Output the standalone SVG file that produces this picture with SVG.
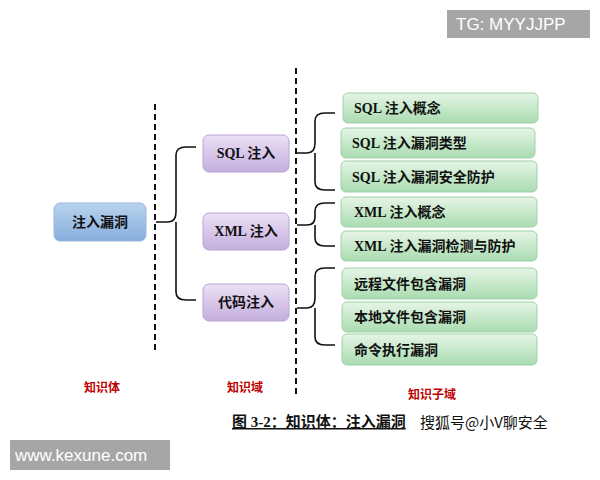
<svg xmlns="http://www.w3.org/2000/svg" width="600" height="480" viewBox="0 0 600 480">
<defs>
<linearGradient id="gb" x1="0" y1="0" x2="0" y2="1"><stop offset="0" stop-color="#b9d3ee"/><stop offset="1" stop-color="#86aedc"/></linearGradient>
<linearGradient id="gp" x1="0" y1="0" x2="0" y2="1"><stop offset="0" stop-color="#ece0f5"/><stop offset="1" stop-color="#c4aede"/></linearGradient>
<linearGradient id="gg" x1="0" y1="0" x2="0" y2="1"><stop offset="0" stop-color="#e6f5e6"/><stop offset="1" stop-color="#a9dcb0"/></linearGradient>
</defs>
<style>
text{font-family:"Liberation Serif","Noto Sans CJK SC",serif;font-weight:bold;font-size:14px;fill:#111}
.b{fill:url(#gb);stroke:#9bb8dc;stroke-width:1}
.p{fill:url(#gp);stroke:#b8a6d6;stroke-width:1}
.g{fill:url(#gg);stroke:#9fd0a8;stroke-width:1}
.c{fill:none;stroke:#111;stroke-width:1.6}
.d{stroke:#111;stroke-width:2;stroke-dasharray:6,4}
.r{fill:#c00000;font-family:"Noto Sans CJK SC",sans-serif;font-size:12px}
.w{font-family:"Liberation Sans",sans-serif;font-weight:normal;font-size:17px;fill:#fff}
</style>
<rect width="600" height="480" fill="#fff"/>
<g id="guides"><line class="d" x1="155" y1="104" x2="155" y2="352"/><line class="d" x1="296" y1="68" x2="296" y2="395"/></g>
<g id="connectors">
<path class="c" d="M156 222 H168 Q176 222 176 212 V155 Q176 147 186 147 H196 M176 222 V292 Q176 300 186 300 H196"/>
<path class="c" d="M297 153 H307 Q315 153 315 143 V121 Q315 113 325 113 H335 M315 153 V182 Q315 190 325 190 H335"/>
<path class="c" d="M297 225 H307 Q315 225 315 217 V211 Q315 203 325 203 H335 M315 225 V238 Q315 246 325 246 H335"/>
<path class="c" d="M297 308 H307 Q315 308 315 298 V276 Q315 268 325 268 H335 M315 308 V337 Q315 345 325 345 H335"/>
</g>
<g id="root"><rect class="b" x="54" y="203" width="92" height="38" rx="6"/><text x="100" y="227" text-anchor="middle">注入漏洞</text></g>
<g id="sql"><rect class="p" x="203" y="135" width="86" height="37" rx="6"/><text x="246" y="158" text-anchor="middle">SQL 注入</text></g>
<g id="xml"><rect class="p" x="203" y="213" width="86" height="37" rx="6"/><text x="246" y="236" text-anchor="middle">XML 注入</text></g>
<g id="code"><rect class="p" x="203" y="284" width="86" height="37" rx="6"/><text x="246" y="307" text-anchor="middle">代码注入</text></g>
<g id="s1"><rect class="g" x="343" y="93" width="195" height="30" rx="5"/><text x="354" y="113">SQL 注入概念</text></g>
<g id="s2"><rect class="g" x="341" y="128" width="194" height="30" rx="5"/><text x="352" y="148">SQL 注入漏洞类型</text></g>
<g id="s3"><rect class="g" x="341" y="161" width="196" height="31" rx="5"/><text x="352" y="182">SQL 注入漏洞安全防护</text></g>
<g id="x1"><rect class="g" x="341" y="197" width="196" height="30" rx="5"/><text x="354" y="217">XML 注入概念</text></g>
<g id="x2"><rect class="g" x="341" y="231" width="196" height="30" rx="5"/><text x="354" y="251">XML 注入漏洞检测与防护</text></g>
<g id="c1"><rect class="g" x="342" y="268" width="195" height="31" rx="5"/><text x="354" y="289">远程文件包含漏洞</text></g>
<g id="c2"><rect class="g" x="342" y="302" width="195" height="30" rx="5"/><text x="354" y="322">本地文件包含漏洞</text></g>
<g id="c3"><rect class="g" x="342" y="334" width="195" height="31" rx="5"/><text x="354" y="355">命令执行漏洞</text></g>
<g id="labels">
<text class="r" x="102" y="392" text-anchor="middle">知识体</text>
<text class="r" x="245" y="392" text-anchor="middle">知识域</text>
<text class="r" x="432" y="399" text-anchor="middle">知识子域</text>
<text x="232" y="427" style="font-size:15px" text-decoration="underline">图 3-2：知识体：注入漏洞</text>
<text x="420" y="428" style="font-family:'Noto Sans CJK SC',sans-serif;font-weight:normal;font-size:15px">搜狐号@小V聊安全</text>
</g>
<g id="wm">
<rect x="447" y="10" width="143" height="28" fill="#a6a6a6"/><text class="w" x="456" y="30">TG: MYYJJPP</text>
<rect x="10" y="440" width="160" height="30" fill="#a6a6a6"/><text class="w" x="15" y="461">www.kexune.com</text>
</g>
</svg>
